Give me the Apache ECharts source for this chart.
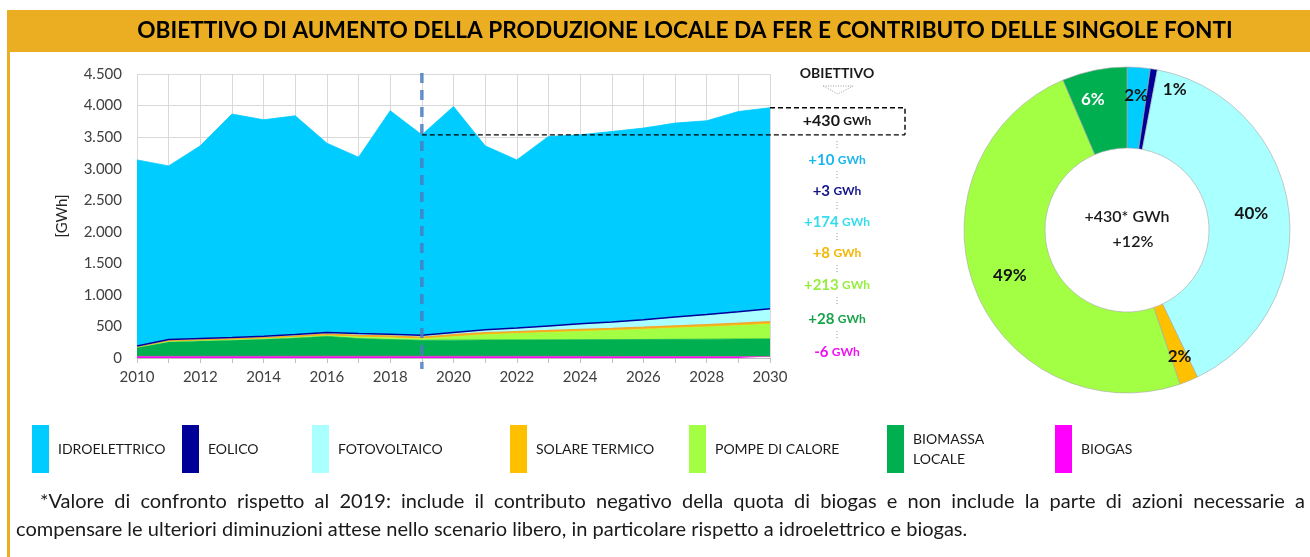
<!DOCTYPE html>
<html>
<head>
<meta charset="utf-8">
<script src="https://cdn.jsdelivr.net/npm/echarts@6/dist/echarts.min.js"></script>
<style>
  html, body { margin: 0; padding: 0; background: #fff; }
  #main { width: 1310px; height: 557px; }
</style>
</head>
<body>
<div id="main"></div>
<script>
// valori (GWh)
var years = ['2010','2011','2012','2013','2014','2015','2016','2017','2018','2019','2020',
             '2021','2022','2023','2024','2025','2026','2027','2028','2029','2030'];
var idroelettrico = [2949,2752,3054,3541,3430,3467,3001,2795,3542,3176,3582,2914,2664,3003,2995,3017,3035,3074,3071,3173,3186];
var eolico        = [2,2,2,2,2,2,2,2,2,2,2,3,3,3,4,4,4,4,5,5,5];
var fotovoltaico  = [6,13,12,15,18,20,22,28,28,29,35,45,55,70,85,100,118,136,155,180,203];
var solareTermico = [12,15,16,17,18,20,22,24,26,28,29,30,30,31,32,32,33,34,35,35,36];
var pompeCalore   = [5,8,8,9,10,11,12,25,28,20,55,85,100,115,130,145,160,178,195,212,233];
var biomassa      = [139,228,243,254,270,290,317,280,264,253,255,258,260,262,264,266,269,272,275,278,281];
var biogas        = [26,26,27,27,27,28,28,28,28,28,28,27,27,26,26,25,24,24,23,23,22];

var names  = ['IDROELETTRICO','EOLICO','FOTOVOLTAICO','SOLARE TERMICO','POMPE DI CALORE','BIOMASSA LOCALE','BIOGAS'];
var colors = ['#00CCFF','#000099','#AAFFFF','#FFC000','#A2FF44','#00B050','#FF00FF'];
var deltaColors = ['#1CB5EE','#14148C','#33DDEE','#F2B705','#96EE3C','#17A24A','#F010F0'];
// variazione 2019 -> 2030
var deltas = [10, 3, 174, 8, 213, 28, -6];
var totalDelta = 430;

var FONT = 'Lato, "Open Sans", sans-serif';
var chart = echarts.init(document.getElementById('main'));

var measure = document.createElement('canvas').getContext('2d');
function textW(txt, font) { measure.font = font; return measure.measureText(txt).width; }
function fitSize(txt, weight, target) {
  return 100 * target / textW(txt, weight + ' 100px Lato');
}
function itNum(v) {
  if (v >= 1000) return Math.floor(v / 1000) + '.' + String(v % 1000).padStart(3, '0');
  return String(v);
}

function areaSeries(name, data, color, lineColor, lineWidth) {
  return {
    name: name, type: 'line', stack: 'tot', data: data,
    symbol: 'none', smooth: false,
    itemStyle: { color: color },
    lineStyle: { color: lineColor || color, width: lineWidth == null ? 0.8 : lineWidth },
    areaStyle: { color: color, opacity: 1 },
    emphasis: { disabled: true }
  };
}

var legendLeft = [32, 182, 312, 510, 689, 887, 1055];
var legends = names.map(function (n, i) {
  return {
    data: [n], left: legendLeft[i], top: 425, padding: 0,
    icon: 'rect', itemWidth: 17, itemHeight: 48, selectedMode: false,
    formatter: function (s) { return s === 'BIOMASSA LOCALE' ? 'BIOMASSA\nLOCALE' : s; },
    textStyle: { fontFamily: FONT, fontSize: 14, color: '#1a1a1a', lineHeight: 20, padding: [0, 0, 0, 4] }
  };
});

var pieData = names.slice(0, 6).map(function (n, i) {
  return { name: n, value: deltas[i], itemStyle: { color: colors[i] } };
});
var pieOffsets = [[0, -9], [27, -17], [0, 0], [5, 10], [0, 0], [-9, -8]];
pieData.forEach(function (d, i) {
  d.label = { offset: pieOffsets[i], color: i === 5 ? '#ffffff' : '#151515' };
});

chart.setOption({
  animation: false,
  grid: { left: 137, right: 540, top: 74, bottom: 199 },
  legend: legends,
  xAxis: {
    type: 'category', data: years, boundaryGap: false,
    axisLine: { lineStyle: { color: '#bfbfbf' } },
    axisTick: { interval: 0, length: 5, lineStyle: { color: '#bfbfbf' } },
    axisLabel: { interval: 1, margin: 12, fontFamily: FONT, fontSize: 15, color: '#404040' },
    splitLine: { show: true, interval: 0, lineStyle: { color: '#d9d9d9' } }
  },
  yAxis: {
    type: 'value', min: 0, max: 4500, interval: 500,
    name: '[GWh]', nameLocation: 'middle', nameRotate: 90, nameGap: 67,
    nameTextStyle: { fontFamily: FONT, fontSize: 15, color: '#262626' },
    axisLine: { show: false }, axisTick: { show: false },
    axisLabel: { margin: 15, fontFamily: FONT, fontSize: 15, color: '#404040', formatter: itNum },
    splitLine: { lineStyle: { color: '#d9d9d9' } }
  },
  series: [
    areaSeries('BIOGAS', biogas, colors[6], '#E040C0', 0.8),
    areaSeries('BIOMASSA LOCALE', biomassa, colors[5]),
    areaSeries('POMPE DI CALORE', pompeCalore, colors[4]),
    areaSeries('SOLARE TERMICO', solareTermico, colors[3], '#F0A830', 1.6),
    areaSeries('FOTOVOLTAICO', fotovoltaico, colors[2]),
    areaSeries('EOLICO', eolico, colors[1], '#000099', 1.5),
    areaSeries('IDROELETTRICO', idroelettrico, colors[0]),
    {
      type: 'pie', center: [1127, 230], radius: [82, 163],
      startAngle: 90, clockwise: true, silent: true,
      label: {
        position: 'inside', fontFamily: FONT, fontSize: 17, fontWeight: 'bold',
        formatter: function (p) { return Math.round(p.percent) + '%'; }
      },
      labelLine: { show: false },
      itemStyle: { borderColor: '#a8a8a8', borderWidth: 0.6 },
      emphasis: { disabled: true },
      data: pieData
    }
  ]
});

// annotazioni
function total(i) {
  return idroelettrico[i] + eolico[i] + fotovoltaico[i] + solareTermico[i] + pompeCalore[i] + biomassa[i] + biogas[i];
}
var i19 = years.indexOf('2019'), i30 = years.indexOf('2030');
var p19 = chart.convertToPixel({ gridIndex: 0 }, ['2019', total(i19)]);
var p30 = chart.convertToPixel({ gridIndex: 0 }, ['2030', total(i30)]);
var pTop = chart.convertToPixel({ gridIndex: 0 }, ['2019', 4500]);
var pZero = chart.convertToPixel({ gridIndex: 0 }, ['2019', 0]);
var boxR = 905, colX = 837;

var g = [];
// fascia titolo
g.push({ type: 'rect', shape: { x: 7, y: 10, width: 1303, height: 42 }, style: { fill: '#EBAE22' } });
g.push({ type: 'rect', shape: { x: 7, y: 10, width: 3, height: 547 }, style: { fill: '#EBAE22' } });
var title = 'OBIETTIVO DI AUMENTO DELLA PRODUZIONE LOCALE DA FER E CONTRIBUTO DELLE SINGOLE FONTI';
var ts = fitSize(title, 'bold', 1096);
g.push({ type: 'text', style: { text: title, x: 685, y: 31, align: 'center', verticalAlign: 'middle',
  font: 'bold ' + ts.toFixed(2) + 'px Lato', fill: '#000' } });

// linea 2019
g.push({ type: 'line', z: 100, shape: { x1: pTop[0], y1: pTop[1] - 1, x2: pZero[0], y2: pZero[1] + 11 },
  style: { stroke: '#4A7CC0', lineWidth: 3.5, lineDash: [10, 7], opacity: 0.85 } });
// riquadro obiettivo
g.push({ type: 'line', z: 100, shape: { x1: p19[0], y1: p19[1], x2: boxR, y2: p19[1] },
  style: { stroke: '#000', lineWidth: 1.4, lineDash: [5, 3] } });
g.push({ type: 'polyline', z: 100, shape: { points: [[p30[0], p30[1]], [boxR, p30[1]], [boxR, p19[1]]] },
  style: { stroke: '#000', fill: null, lineWidth: 1.4, lineDash: [5, 3] } });
g.push({ type: 'text', z: 100, style: { text: '{n|+' + totalDelta + '} {u|GWh}', x: colX, y: (p19[1] + p30[1]) / 2,
  align: 'center', verticalAlign: 'middle',
  rich: { n: { fontFamily: FONT, fontSize: 16, fontWeight: 'bold', fill: '#151515' },
          u: { fontFamily: FONT, fontSize: 12, fontWeight: 'bold', fill: '#151515' } } } });
g.push({ type: 'text', style: { text: 'OBIETTIVO', x: colX, y: 73, align: 'center', verticalAlign: 'middle',
  font: 'bold 14px Lato', fill: '#1a1a1a' } });
g.push({ type: 'polygon', shape: { points: [[823, 86], [853, 86], [838, 94]] },
  style: { fill: null, stroke: '#9a9a9a', lineWidth: 1, lineDash: [1, 1.5] } });

var deltaY = [160, 191, 222, 253, 285, 319, 352];
var sepY = [145, 175, 206, 237, 269, 301, 335];
deltas.forEach(function (d, i) {
  g.push({ type: 'text', style: { text: '{n|' + (d > 0 ? '+' : '') + d + '} {u|GWh}', x: colX, y: deltaY[i],
    align: 'center', verticalAlign: 'middle',
    rich: { n: { fontFamily: FONT, fontSize: 15, fontWeight: 'bold', fill: deltaColors[i] },
            u: { fontFamily: FONT, fontSize: 12, fontWeight: 'bold', fill: deltaColors[i] } } } });
  g.push({ type: 'line', shape: { x1: colX, y1: sepY[i] - 4, x2: colX, y2: sepY[i] + 4 },
    style: { stroke: '#9a9a9a', lineWidth: 1, lineDash: [1, 2] } });
});

// centro ciambella
g.push({ type: 'text', z: 100, style: { text: '+' + totalDelta + '* GWh', x: 1127, y: 217, align: 'center',
  verticalAlign: 'middle', font: '600 16px Lato', fill: '#1a1a1a' } });
g.push({ type: 'text', z: 100, style: { text: '+' + Math.round(totalDelta / total(i19) * 100) + '%', x: 1133, y: 242,
  align: 'center', verticalAlign: 'middle', font: '600 16px Lato', fill: '#1a1a1a' } });

// nota a piè (riga 1 giustificata)
var note1 = '*Valore di confronto rispetto al 2019: include il contributo negativo della quota di biogas e non include la parte di azioni necessarie a';
var note2 = 'compensare le ulteriori diminuzioni attese nello scenario libero, in particolare rispetto a idroelettrico e biogas.';
var fs = fitSize(note2, 'normal', 952);
var nFont = fs.toFixed(2) + 'px Lato';
var words = note1.split(' ');
var wsum = 0;
words.forEach(function (w) { wsum += textW(w, nFont); });
var gap = (1305 - 40 - wsum) / (words.length - 1);
var cx = 40;
words.forEach(function (w) {
  g.push({ type: 'text', style: { text: w, x: cx, y: 502, verticalAlign: 'middle', font: nFont, fill: '#1a1a1a' } });
  cx += textW(w, nFont) + gap;
});
g.push({ type: 'text', style: { text: note2, x: 16, y: 530, verticalAlign: 'middle', font: nFont, fill: '#1a1a1a' } });

chart.setOption({ graphic: { elements: g } });
</script>
</body>
</html>
